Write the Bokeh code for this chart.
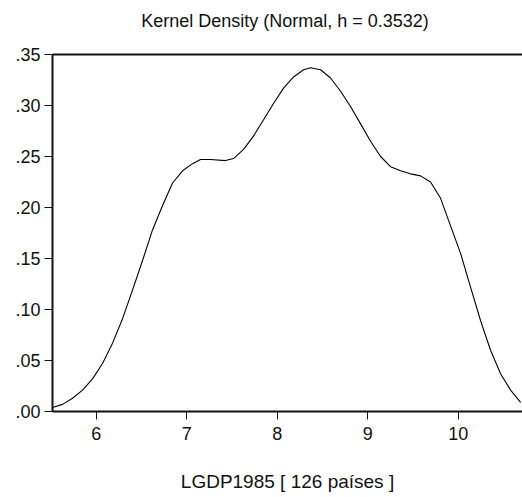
from bokeh.plotting import figure
from bokeh.models import FixedTicker, LinearAxis, Range1d
from bokeh.embed import file_html
from bokeh.resources import INLINE

# values
x_vals = [5.517, 5.628, 5.738, 5.849, 5.959, 6.070, 6.180, 6.291, 6.401, 6.512,
          6.622, 6.733, 6.843, 6.954, 7.064, 7.152, 7.263, 7.429, 7.517, 7.628,
          7.738, 7.849, 7.959, 8.070, 8.180, 8.291, 8.368, 8.479, 8.589, 8.700,
          8.810, 8.921, 9.031, 9.142, 9.252, 9.363, 9.473, 9.584, 9.694, 9.805,
          9.915, 10.026, 10.136, 10.247, 10.357, 10.468, 10.578, 10.689]
density = [0.004, 0.007, 0.013, 0.021, 0.032, 0.047, 0.067, 0.091, 0.119, 0.148,
           0.178, 0.202, 0.224, 0.236, 0.243, 0.247, 0.247, 0.246, 0.248, 0.257,
           0.270, 0.286, 0.302, 0.317, 0.328, 0.335, 0.337, 0.335, 0.327, 0.314,
           0.299, 0.282, 0.265, 0.250, 0.240, 0.236, 0.233, 0.231, 0.225, 0.209,
           0.182, 0.155, 0.122, 0.089, 0.060, 0.037, 0.021, 0.009]

x_ticks = [6, 7, 8, 9, 10]
y_ticks = [0.0, 0.05, 0.10, 0.15, 0.20, 0.25, 0.30, 0.35]
y_tick_labels = [".00", ".05", ".10", ".15", ".20", ".25", ".30", ".35"]

title_text = "Kernel Density (Normal, h =  0.3532)"
x_label = "LGDP1985 [ 126 países ]"

FONT = "Liberation Sans"
INK = "#111111"

p = figure(width=522, height=497, output_backend="svg", toolbar_location=None,
           x_range=Range1d(5.517, 10.71), y_range=Range1d(0, 0.35),
           min_border_left=52, min_border_right=0, min_border_top=54,
           min_border_bottom=86, background_fill_color="white",
           border_fill_color="white")
p.outline_line_color = None
p.xgrid.visible = False
p.ygrid.visible = False
p.title.visible = False

p.line(x_vals, density, line_color="black", line_width=1.1)

xa = p.xaxis[0]
xa.ticker = FixedTicker(ticks=x_ticks)
xa.axis_label = x_label
xa.axis_label_text_font = FONT
xa.axis_label_text_font_size = "19px"
xa.axis_label_text_font_style = "normal"
xa.axis_label_text_color = INK
xa.axis_label_standoff = 28
xa.major_label_text_font = FONT
xa.major_label_text_font_size = "18px"
xa.major_label_text_color = INK
xa.major_label_standoff = 7
xa.major_tick_out = 8
xa.major_tick_in = 0
xa.minor_tick_line_color = None
xa.axis_line_width = 2
xa.axis_line_color = INK
xa.major_tick_line_color = INK

ya = p.yaxis[0]
ya.ticker = FixedTicker(ticks=y_ticks)
ya.major_label_overrides = dict(zip(y_ticks, y_tick_labels))
ya.major_label_text_font = FONT
ya.major_label_text_font_size = "18px"
ya.major_label_text_color = INK
ya.major_label_standoff = 4
ya.major_tick_out = 8
ya.major_tick_in = 0
ya.minor_tick_line_color = None
ya.axis_line_width = 2
ya.axis_line_color = INK
ya.major_tick_line_color = INK

# top frame line carrying the chart title as its label
top = LinearAxis(ticker=FixedTicker(ticks=[]), major_tick_line_color=None,
                 minor_tick_line_color=None, major_label_text_font_size="0px",
                 major_label_standoff=0, major_tick_out=0, major_tick_in=0,
                 axis_line_width=2, axis_line_color=INK,
                 axis_label=title_text, axis_label_text_font=FONT,
                 axis_label_text_font_size="18px",
                 axis_label_text_font_style="normal",
                 axis_label_text_color=INK, axis_label_standoff=24)
p.add_layout(top, "above")

open("out.html", "w").write(file_html(p, INLINE))
